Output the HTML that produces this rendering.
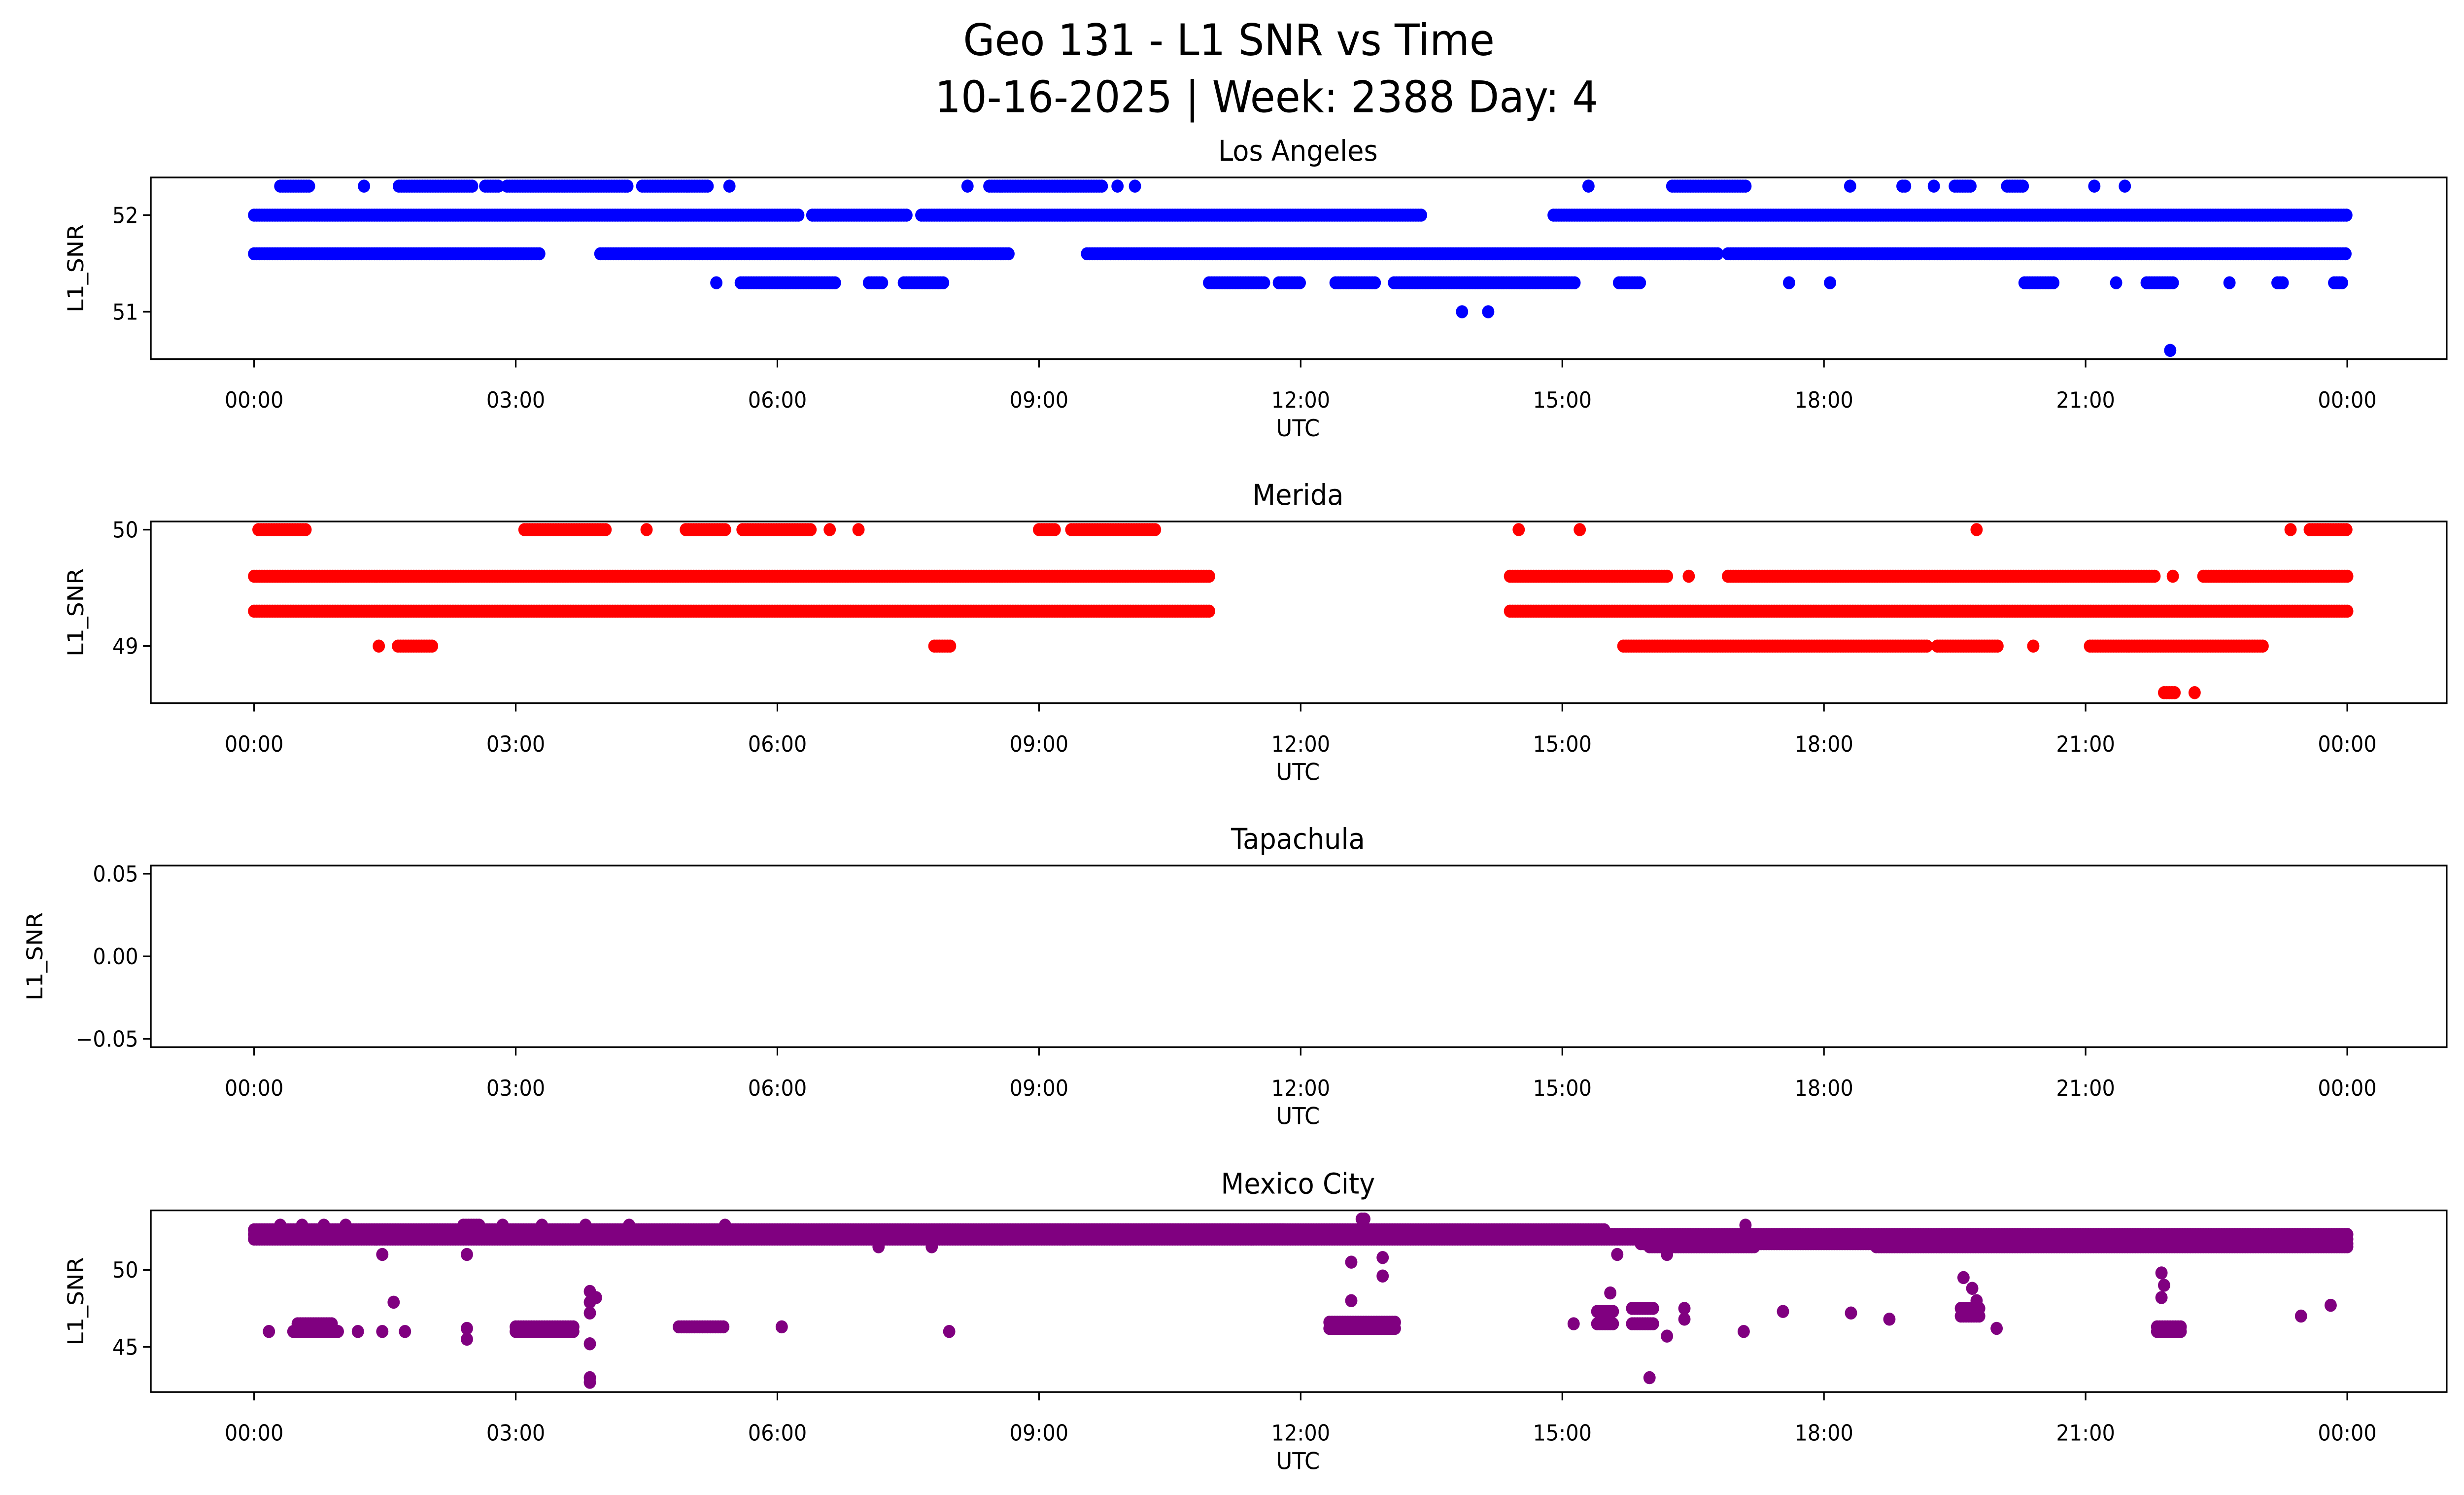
<!DOCTYPE html>
<html><head><meta charset="utf-8"><title>Geo 131 - L1 SNR vs Time</title>
<style>html,body{margin:0;padding:0;background:#fff;width:100%;height:100%;overflow:hidden}svg{display:block;position:absolute;left:0;top:0;width:100vw;height:100vh}text{font-family:"DejaVu Sans","Liberation Sans",sans-serif}</style>
</head><body>
<svg id="fig" xmlns="http://www.w3.org/2000/svg" viewBox="0 0 1568 893" preserveAspectRatio="none">
<rect width="1568" height="893" fill="#fff"/>
<text x="782" y="33" font-size="26" text-anchor="middle">Geo 131 - L1 SNR vs Time</text>
<text x="806" y="67" font-size="26" text-anchor="middle">10-16-2025 | Week: 2388 Day: 4</text>
</svg>
<script>
// ---- data (hours UTC, runs of [start, end, value]) ----
const panelNames = ["Los Angeles", "Merida", "Tapachula", "Mexico City"];
const xTickLabels = ["00:00","03:00","06:00","09:00","12:00","15:00","18:00","21:00","00:00"];
const laTicks = [51, 52];
const meridaTicks = [49, 50];
const tapTicks = [-0.05, 0.00, 0.05];
const mxTicks = [45, 50];
const laRuns = [
 [0.3,0.65,52.3],[1.26,1.26,52.3],[1.66,2.5,52.3],[2.65,2.8,52.3],[2.9,4.3,52.3],[4.45,5.2,52.3],[5.45,5.45,52.3],
 [8.18,8.18,52.3],[8.43,9.73,52.3],[9.9,9.9,52.3],[10.1,10.1,52.3],[15.3,15.3,52.3],[16.26,17.1,52.3],[18.3,18.3,52.3],
 [18.9,18.95,52.3],[19.26,19.26,52.3],[19.5,19.7,52.3],[20.1,20.3,52.3],[21.1,21.1,52.3],[21.45,21.45,52.3],
 [0,6.26,52.0],[6.4,7.5,52.0],[7.65,13.4,52.0],[14.9,24,52.0],
 [0,3.27,51.6],[3.97,8.65,51.6],[9.55,16.8,51.6],[16.9,24,51.6],
 [5.3,5.3,51.3],[5.58,6.66,51.3],[7.05,7.2,51.3],[7.45,7.9,51.3],[10.95,11.6,51.3],[11.75,12.0,51.3],[12.4,12.85,51.3],
 [13.07,15.15,51.3],[15.65,15.9,51.3],[17.6,17.6,51.3],[18.07,18.07,51.3],[20.3,20.65,51.3],[21.35,21.35,51.3],
 [21.7,22.0,51.3],[22.65,22.65,51.3],[23.2,23.27,51.3],[23.85,23.95,51.3],
 [13.85,13.85,51.0],[14.15,14.15,51.0],[21.97,21.97,50.6]
];
const meridaRuns = [
 [0.05,0.6,50.0],[3.1,4.05,50.0],[4.5,4.5,50.0],[4.95,5.4,50.0],[5.6,6.4,50.0],[6.6,6.6,50.0],[6.93,6.93,50.0],
 [9.0,9.2,50.0],[9.37,10.35,50.0],[14.5,14.5,50.0],[15.2,15.2,50.0],[19.75,19.75,50.0],[23.35,23.35,50.0],[23.57,24,50.0],
 [0,10.95,49.6],[14.4,16.2,49.6],[16.45,16.45,49.6],[16.9,21.8,49.6],[22.0,22.0,49.6],[22.35,24,49.6],
 [0,10.95,49.3],[14.4,24,49.3],
 [1.43,1.43,49.0],[1.65,2.05,49.0],[7.8,8.0,49.0],[15.7,19.2,49.0],[19.3,20.0,49.0],[20.4,20.4,49.0],[21.05,23.05,49.0],
 [21.9,22.03,48.6],[22.25,22.25,48.6]
];
const tapRuns = [];
const mxRuns = [
 [0,24,52.3],[0,24,52.0],[0,15.5,52.6],[2.4,2.6,52.9],[3.8,3.8,52.9],[5.4,5.4,52.9],[17.1,17.1,52.9],[12.7,12.75,53.3],
 [0.3,0.3,52.9],[0.55,0.55,52.9],[0.8,0.8,52.9],[1.05,1.05,52.9],[2.85,2.85,52.9],[3.3,3.3,52.9],[4.3,4.3,52.9],
 [8.8,11.8,52.6],[15.9,24,51.7],[16.0,17.2,51.5],[18.6,24,51.5],
 [0.17,0.17,46.0],[0.45,0.97,46.0],[0.5,0.9,46.5],[1.19,1.19,46.0],[1.47,1.47,46.0],[1.47,1.47,51.0],[1.6,1.6,47.9],
 [1.73,1.73,46.0],[2.44,2.44,51.0],[2.44,2.44,45.5],[2.44,2.44,46.2],[3.0,3.68,46.3],[3.0,3.68,46.0],
 [3.85,3.85,48.6],[3.85,3.85,47.9],[3.85,3.85,47.2],[3.92,3.92,48.2],[3.85,3.85,45.2],[3.85,3.85,43.0],[3.85,3.85,42.7],
 [4.87,5.38,46.3],[6.05,6.05,46.3],[7.16,7.16,51.5],[7.77,7.77,51.5],[7.97,7.97,46.0],
 [12.33,13.09,46.6],[12.33,13.09,46.2],[12.58,12.58,50.5],[12.58,12.58,48.0],[12.94,12.94,50.8],[12.94,12.94,49.6],
 [15.13,15.13,46.5],[15.4,15.6,46.5],[15.4,15.6,47.3],[15.55,15.55,48.5],[15.63,15.63,51.0],[15.8,16.06,46.5],
 [15.8,16.06,47.5],[16.0,16.0,43.0],[16.2,16.2,51.0],[16.2,16.2,45.7],[16.4,16.4,47.5],[16.4,16.4,46.8],
 [17.08,17.08,46.0],[17.53,17.53,47.3],[18.31,18.31,47.2],[18.75,18.75,46.8],[19.57,19.79,47.0],[19.57,19.79,47.5],
 [19.6,19.6,49.5],[19.7,19.7,48.8],[19.75,19.75,48.0],[19.98,19.98,46.2],[21.87,21.87,49.8],[21.9,21.9,49.0],
 [21.87,21.87,48.2],[21.82,22.1,46.3],[21.82,22.1,46.0],[23.47,23.47,47.0],[23.81,23.81,47.7]
];
const panelData = [laRuns, meridaRuns, tapRuns, mxRuns];
const panelTicks = [laTicks, meridaTicks, tapTicks, mxTicks];
const panelYlim = [[50.51,52.39],[48.51,50.07],[-0.055,0.055],[42.07,53.86]];
const panelColor = ["#0000ff","#ff0000","#0000ff","#800080"];

// ---- layout ----
const NS = "http://www.w3.org/2000/svg";
const svg = document.getElementById('fig');
const AX_L = 96, AX_R = 1557, AX_H = 108.5;
const tops = [106, 311.5, 517, 723];
const x0 = 161.7, pxPerHour = 55.5;
const xScale = h => x0 + h * pxPerHour;
function mk(tag, attrs, parent) {
  const e = document.createElementNS(NS, tag);
  for (const k in attrs) e.setAttribute(k, attrs[k]);
  (parent || svg).appendChild(e);
  return e;
}
panelNames.forEach((name, p) => {
  const top = tops[p], bot = top + AX_H;
  const [ymin, ymax] = panelYlim[p];
  const yScale = v => bot - (v - ymin) / (ymax - ymin) * AX_H;
  const g = mk('g', {});
  
  
  const clipId = 'clip' + p;
  const cp = mk('clipPath', {id: clipId}, g);
  mk('rect', {x: AX_L, y: top, width: AX_R - AX_L, height: AX_H}, cp);
  const pts = mk('g', {fill: panelColor[p], 'clip-path': 'url(#' + clipId + ')'}, g);
  
  
  panelData[p].forEach(run => {
    const [s, e, v] = run;
    const step = 0.03;
    for (let h = s; h <= e + 1e-9; h += step) {
      const c = mk('circle', {cx: xScale(h).toFixed(2), cy: yScale(v).toFixed(2), r: 3.9}, pts);
      
      
    }
  });
  const fr = mk('rect', {x: AX_L, y: top, width: AX_R - AX_L, height: AX_H, fill: 'none', stroke: '#000', 'stroke-width': 1}, g);
  
  
  xTickLabels.forEach((lab, i) => {
    const x = xScale(i * 3);
    mk('line', {x1: x, y1: bot, x2: x, y2: bot + 5, stroke: '#000', 'stroke-width': 1}, g);
    const t = mk('text', {x: x, y: bot + 29, 'font-size': 13, 'text-anchor': 'middle'}, g);
    t.textContent = lab;
    
    
  });
  const xl = mk('text', {x: 826, y: bot + 46, 'font-size': 14, 'text-anchor': 'middle'}, g);
  xl.textContent = 'UTC';
  
  
  panelTicks[p].forEach(v => {
    const y = yScale(v);
    mk('line', {x1: AX_L - 5, y1: y, x2: AX_L, y2: y, stroke: '#000', 'stroke-width': 1}, g);
    const t = mk('text', {x: AX_L - 8, y: y + 4.7, 'font-size': 13, 'text-anchor': 'end'}, g);
    t.textContent = p === 2 ? (v < 0 ? '\u2212' + Math.abs(v).toFixed(2) : v.toFixed(2)) : String(v);
    
    
  });
  const ylx = p === 2 ? 27 : 53;
  const yc = top + AX_H / 2;
  const yl = mk('text', {x: ylx, y: yc, 'font-size': 14, 'text-anchor': 'middle', transform: 'rotate(-90 ' + ylx + ' ' + yc + ')'}, g);
  yl.textContent = 'L1_SNR';
  
  
  const st = mk('text', {x: 826, y: top - 10, 'font-size': 17, 'text-anchor': 'middle'}, g);
  st.textContent = name;
  
  
});
</script>
</body></html>
